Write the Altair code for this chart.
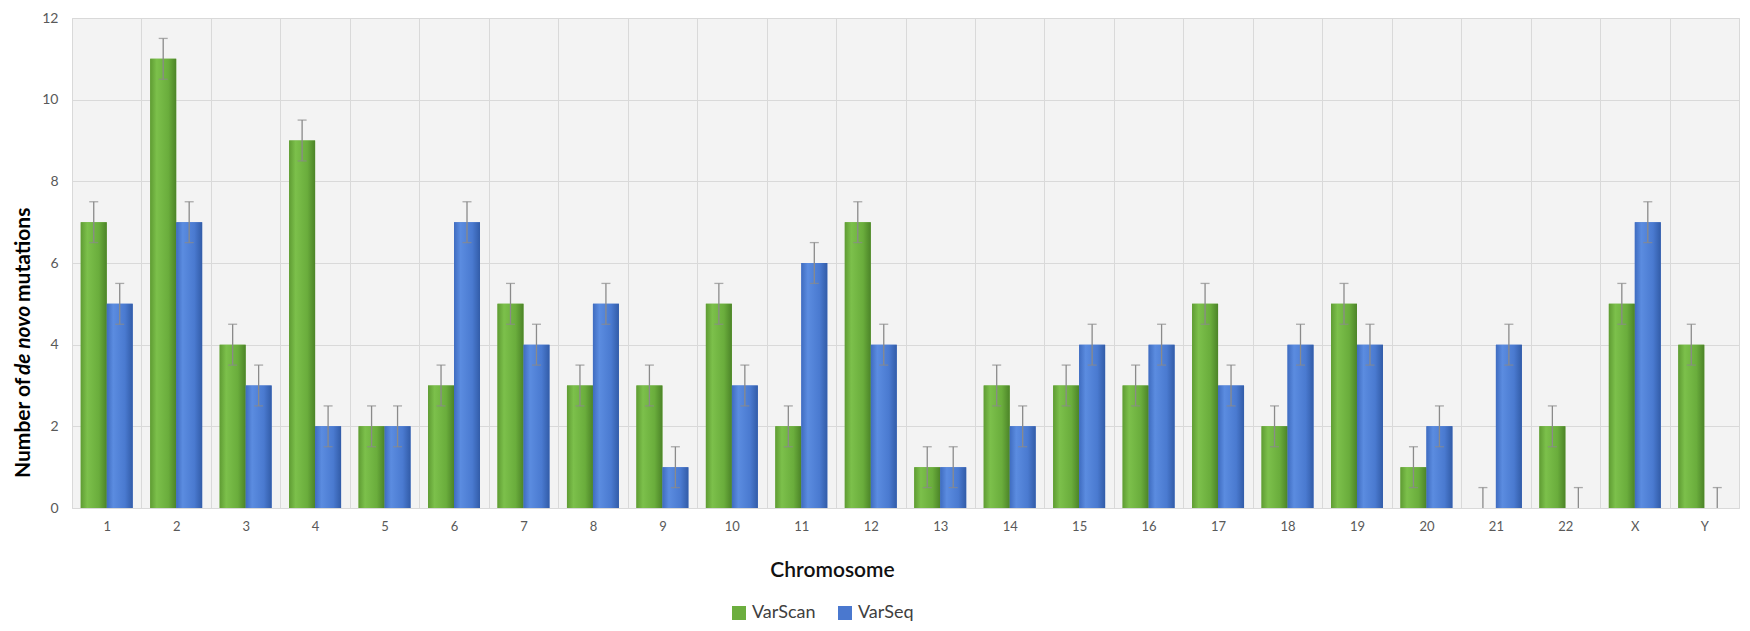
import altair as alt
import pandas as pd

chroms = [str(i) for i in range(1, 23)] + ["X", "Y"]
varscan = [7, 11, 4, 9, 2, 3, 5, 3, 3, 5, 2, 7, 1, 3, 3, 3, 5, 2, 5, 1, 0, 2, 5, 4]
varseq = [5, 7, 3, 2, 2, 7, 4, 5, 1, 3, 6, 4, 1, 2, 4, 4, 3, 4, 4, 2, 4, 0, 7, 0]
series = ["VarScan", "VarSeq"]
err = 0.5

rows = []
for c, a, b in zip(chroms, varscan, varseq):
    for s, v in ((series[0], a), (series[1], b)):
        rows.append({"chrom": c, "series": s, "value": v,
                     "lower": max(v - err, 0), "upper": v + err})
df = pd.DataFrame(rows)

GREEN = "#6cae3e"
BLUE = "#4a78cf"
FONT = "Lato"

grad_g = {"gradient": "linear", "x1": 0, "x2": 1, "y1": 0, "y2": 0,
          "stops": [{"offset": 0, "color": "#5f9c33"}, {"offset": 0.25, "color": "#7cc04b"},
                    {"offset": 0.7, "color": "#6aad3c"}, {"offset": 1, "color": "#4c8428"}]}
grad_b = {"gradient": "linear", "x1": 0, "x2": 1, "y1": 0, "y2": 0,
          "stops": [{"offset": 0, "color": "#3f6cc0"}, {"offset": 0.25, "color": "#5b8ce0"},
                    {"offset": 0.7, "color": "#4a7ad0"}, {"offset": 1, "color": "#325ca8"}]}

x_enc = alt.X("chrom:N", sort=chroms,
              scale=alt.Scale(paddingInner=0, paddingOuter=0),
              axis=alt.Axis(title="Chromosome", tickBand="extent", grid=True, ticks=False,
                            domain=False, labelAngle=0, labelFontSize=13, labelColor="#595959",
                            labelPadding=12, gridColor="#d9d9d9", titleFontSize=21,
                            titleFontWeight=600, titleColor="#111111", titleX=760, titleY=62,
                            titleBaseline="middle", titleAnchor="start", titleAlign="center"))
x_plain = alt.X("chrom:N", sort=chroms)
xo_enc = alt.XOffset("series:N", sort=series,
                     scale=alt.Scale(domain=series, paddingOuter=0.337, paddingInner=0))
y_enc = alt.Y("value:Q", scale=alt.Scale(domain=[0, 12]),
              axis=alt.Axis(title=None, values=[0, 2, 4, 6, 8, 10, 12], ticks=False, domain=False,
                            labelFontSize=14, labelColor="#595959", labelPadding=14,
                            gridColor="#d9d9d9"))

base = alt.Chart(df)

bars = base.mark_bar().encode(
    x=x_enc, xOffset=xo_enc, y=y_enc,
    color=alt.Color("series:N", sort=series,
                    scale=alt.Scale(domain=series, range=[GREEN, BLUE]),
                    legend=alt.Legend(title=None, orient="none", direction="horizontal",
                                      legendX=658, legendY=586, symbolType="square",
                                      symbolSize=196, symbolStrokeWidth=0, labelFontSize=18,
                                      labelColor="#404040", labelOffset=4, columnPadding=20,
                                      labelFont=FONT)),
)

overlay = base.mark_bar().encode(
    x=x_plain, xOffset=xo_enc, y="value:Q",
    color=alt.condition(alt.datum.series == "VarScan", alt.value(grad_g), alt.value(grad_b)),
)

rules = base.mark_rule(color="#8a8a8a", strokeWidth=1.3).encode(
    x=x_plain, xOffset=xo_enc, y="lower:Q", y2="upper:Q")
caps_top = base.mark_tick(color="#8a8a8a", size=9, thickness=1.3).encode(
    x=x_plain, xOffset=xo_enc, y="upper:Q")
caps_low = base.transform_filter(alt.datum.value > 0).mark_tick(
    color="#8a8a8a", size=9, thickness=1.3).encode(
    x=x_plain, xOffset=xo_enc, y="lower:Q")

one = pd.DataFrame({"k": [0]})
ytitle_parts = [("Number of ", "normal", 460), ("de novo", "italic", 357), (" mutations", "normal", 284)]
ytitles = []
for txt, style, ypos in ytitle_parts:
    ytitles.append(alt.Chart(one).mark_text(
        angle=270, align="left", baseline="middle", fontSize=21, fontWeight="bold",
        fontStyle=style, font=FONT, color="#000000").encode(
        x=alt.value(-48), y=alt.value(ypos), text=alt.value(txt)))

chart = alt.layer(bars, overlay, rules, caps_top, caps_low, *ytitles).properties(
    width=1667, height=490,
    autosize=alt.AutoSizeParams(type="none"),
    padding={"left": 64, "top": 10, "right": 3, "bottom": 118},
).configure(font=FONT).configure_view(stroke="#d9d9d9", fill="#f3f3f3")

chart.save("out.html", embed_options={"renderer": "svg", "actions": False})
